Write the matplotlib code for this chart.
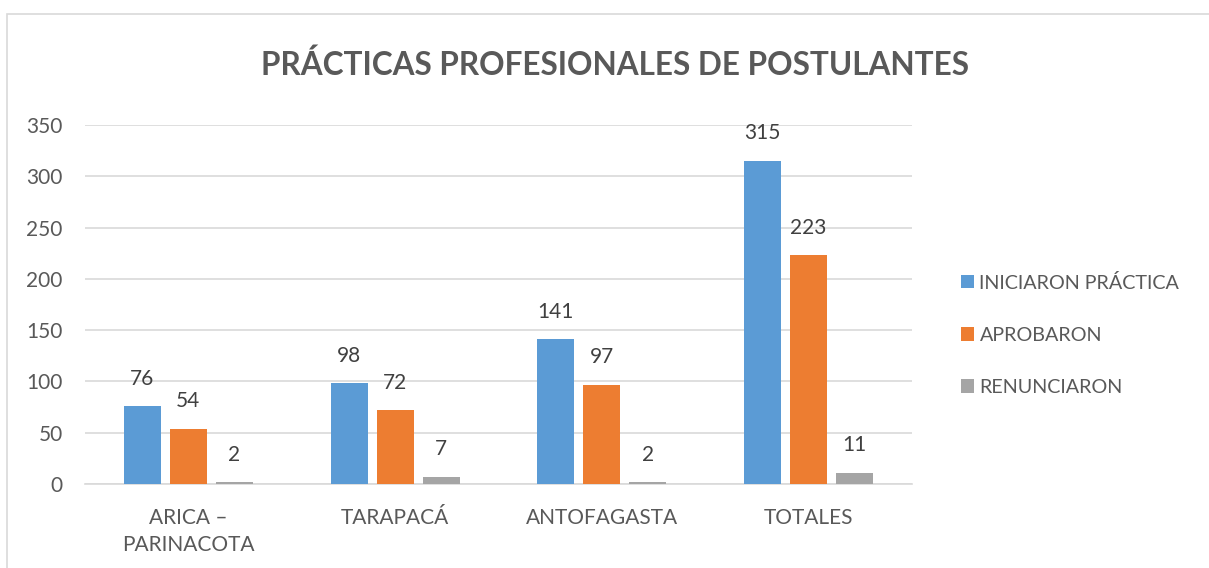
import numpy as np
import matplotlib.pyplot as plt
from matplotlib.patches import Rectangle

categories = ["ARICA –\nPARINACOTA", "TARAPACÁ", "ANTOFAGASTA", "TOTALES"]
series_names = ["INICIARON PRÁCTICA", "APROBARON", "RENUNCIARON"]
iniciaron = [76, 98, 141, 315]
aprobaron = [54, 72, 97, 223]
renunciaron = [2, 7, 2, 11]
yticks = [0, 50, 100, 150, 200, 250, 300, 350]

colors = ["#5B9BD5", "#ED7D31", "#A5A5A5"]
text_color = "#595959"

plt.rcParams['font.family'] = ['Lato', 'DejaVu Sans']

fig = plt.figure(figsize=(12.09, 5.68), dpi=100)
# outer chart frame
fig.patches.append(Rectangle((7 / 1209, -0.1), 1.2, (568 - 14) / 568 + 0.1,
                             transform=fig.transFigure, fill=False,
                             edgecolor="#D9D9D9", linewidth=1.2))

ax = fig.add_axes([85 / 1209, (568 - 484) / 568, (912 - 85) / 1209, (484 - 125) / 568])

x = np.arange(len(categories))
width = 0.179
step = 0.2225
for i, (vals, name) in enumerate(zip([iniciaron, aprobaron, renunciaron], series_names)):
    pos = x + (i - 1) * step
    bars = ax.bar(pos, vals, width, color=colors[i], label=name, zorder=3)
    for b, v in zip(bars, vals):
        ax.text(b.get_x() + b.get_width() / 2, v + 17, str(v), ha="center", va="bottom",
                fontsize=15, color="#404040")

ax.set_xlim(-0.5, len(categories) - 0.5)
ax.set_ylim(0, 350)
ax.set_yticks(yticks)
ax.set_xticks(x)
ax.set_xticklabels(categories, linespacing=1.45)
ax.tick_params(axis="both", length=0, labelsize=15, labelcolor=text_color)
ax.tick_params(axis="y", pad=16)
ax.tick_params(axis="x", pad=17)
ax.grid(axis="y", color="#D9D9D9", linewidth=1.2, zorder=0)
for s in ["top", "right", "left"]:
    ax.spines[s].set_visible(False)
ax.spines["bottom"].set_color("#D9D9D9")
ax.spines["bottom"].set_linewidth(1.2)

fig.text(615 / 1209, 1 - 65 / 568, "PRÁCTICAS PROFESIONALES DE POSTULANTES", ha="center",
         va="center", fontsize=22.7, fontweight="bold", color=text_color)

ax.legend(loc="upper left", bbox_to_anchor=(943 / 1209, 1 - 256 / 568), bbox_transform=fig.transFigure,
          frameon=False, fontsize=14.2, labelcolor=text_color, handlelength=0.65, handleheight=0.65,
          handletextpad=0.3, labelspacing=1.78)

fig.savefig("out.png", dpi=100)
